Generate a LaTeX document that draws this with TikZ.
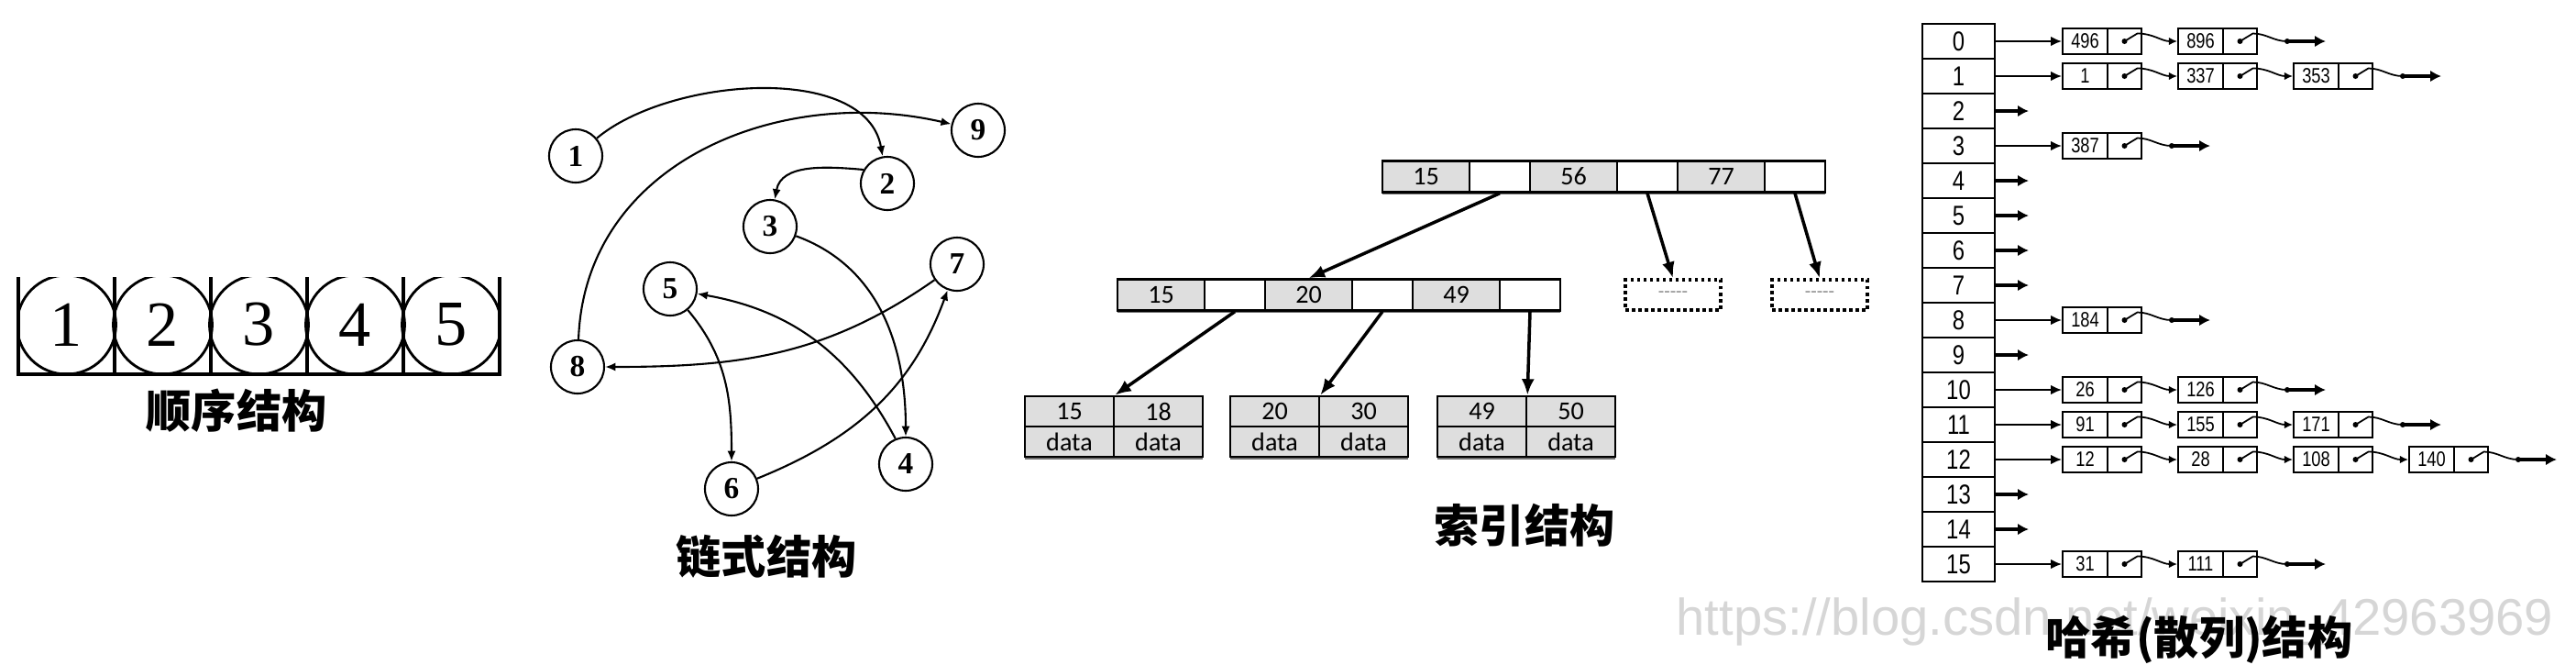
\documentclass[tikz,border=0pt]{standalone}
\usepackage{fontspec}
\setmainfont{Liberation Serif}
\newfontfamily\cjk{Noto Sans CJK SC}
\newfontfamily\narrowsans[FakeStretch=0.8]{Liberation Sans}
\newfontfamily\plainsans{Liberation Sans}
\newfontfamily\keyfont{Carlito}
\usetikzlibrary{%
		arrows.meta%
		,shadows%
	}
\definecolor{keygray}{gray}{0.87}

\begin{document}
\begin{tikzpicture}[
		caption/.style={inner sep=0pt, font=\cjk\bfseries\fontsize{14}{16}\selectfont},
		cellnum/.style={inner sep=0pt, font=\fontsize{20}{24}\selectfont},
		ring/.style={draw, circle, line width=0.6pt, minimum size=0.58cm, inner sep=0pt, font=\bfseries\fontsize{9.5}{10}\selectfont},
		link/.style={line width=0.6pt, -{Latex[length=3.2pt,width=2.6pt]}},
		keycell/.style={draw, line width=0.7pt, fill=keygray, inner sep=0pt, minimum width=0.95cm, minimum height=0.34cm, font=\keyfont\fontsize{8}{9}\selectfont, drop shadow={shadow xshift=0pt, shadow yshift=-0.8pt, opacity=0.8, fill=black!70}},
		ptrcell/.style={keycell, fill=white, minimum width=0.66cm},
		leafcell/.style={keycell, minimum width=0.97cm, minimum height=0.33cm},
		dotbox/.style={draw, densely dotted, line width=1pt, minimum width=1.04cm, minimum height=0.33cm, inner sep=0pt, text=black!45, font=\keyfont\fontsize{6}{7}\selectfont},
		treearrow/.style={line width=1pt, -{Latex[length=5pt,width=4pt]}},
		slot/.style={draw, line width=0.6pt, fill=white, minimum width=0.79cm, minimum height=0.38cm, inner sep=0pt, font=\narrowsans\fontsize{8.5}{9}\selectfont},
		valcell/.style={draw, line width=0.5pt, minimum width=0.49cm, minimum height=0.28cm, inner sep=0pt, font=\narrowsans\fontsize{6.5}{7}\selectfont},
		ptrbox/.style={valcell, minimum width=0.37cm},
		hasharrow/.style={line width=0.6pt, -{Latex[length=3.4pt,width=3pt]}},
		ptrlink/.style={line width=0.5pt},
		stub/.style={line width=1pt, -{Latex[length=3.4pt,width=3.6pt]}},
		watermark/.style={inner sep=0pt, text=black!16, font=\plainsans\fontsize{16}{18}\selectfont}
	]
	\useasboundingbox (0,0) rectangle (28.10,-7.24);

	% sequential
	\begin{scope}
		\clip (0.20,-3.02) rectangle (5.45,-4.20);
		\foreach \i in {1,...,5}{
			\draw[line width=0.8pt] ({0.725+1.05*(\i-1)},-3.54) circle (0.54);
		}
	\end{scope}
	\draw[line width=1pt] (0.20,-3.02) -- (0.20,-4.08) -- (5.45,-4.08) -- (5.45,-3.02);
	\foreach \x in {1.25,2.30,3.35,4.40}
		\draw[line width=1pt] (\x,-3.02) -- (\x,-4.08);
	\foreach \i in {1,...,5}
		\node[cellnum] (c\i) at ({0.725+1.05*(\i-1)},-3.54) {\i};
	\node[caption] (seqcap) at (2.58,-4.48) {顺序结构};

	% linked
	\node[ring] (n1) at (6.28,-1.70) {1};
	\node[ring] (n2) at (9.68,-2.00) {2};
	\node[ring] (n3) at (8.40,-2.47) {3};
	\node[ring] (n4) at (9.88,-5.06) {4};
	\node[ring] (n5) at (7.31,-3.15) {5};
	\node[ring] (n6) at (7.98,-5.33) {6};
	\node[ring] (n7) at (10.44,-2.88) {7};
	\node[ring] (n8) at (6.30,-4.00) {8};
	\node[ring] (n9) at (10.67,-1.42) {9};

	\draw[link] (n1) to[out=40, in=100, looseness=0.85] (n2);
	\draw[link] (n2.150) to[out=175, in=80] (n3);
	\draw[link] (n3) to[out=-20, in=90] (n4);
	\draw[link] (n4.112) to[out=118, in=-10] (n5);
	\draw[link] (n5) to[out=-50, in=90] (n6);
	\draw[link] (n6) to[out=22, in=-110] (n7);
	\draw[link] (n7) to[out=-145, in=0] (n8);
	\draw[link] (n8) to[out=88, in=167, looseness=1.05] (n9);
	\node[caption] (linkcap) at (8.36,-6.07) {链式结构};

	% index
	\foreach \k/\x/\v in {1/15.555/15, 2/17.165/56, 3/18.775/77}
		\node[keycell] (rk\k) at (\x,-1.925) {\v};
	\foreach \k/\x in {1/16.36, 2/17.97, 3/19.58}
		\node[ptrcell] (rp\k) at (\x,-1.925) {};

	\foreach \k/\x/\v in {1/12.665/15, 2/14.275/20, 3/15.885/49}
		\node[keycell] (mk\k) at (\x,-3.215) {\v};
	\foreach \k/\x in {1/13.47, 2/15.08, 3/16.69}
		\node[ptrcell] (mp\k) at (\x,-3.215) {};

	\node[dotbox] (d1) at (18.25,-3.215) {-----};
	\node[dotbox] (d2) at (19.85,-3.215) {-----};

	\foreach \l/\x/\a/\b in {1/11.18/15/18, 2/13.42/20/30, 3/15.68/49/50}{
		\node[leafcell] (la\l) at ({\x+0.485},-4.485) {\a};
		\node[leafcell] (lb\l) at ({\x+1.455},-4.485) {\b};
		\node[leafcell] (lc\l) at ({\x+0.485},-4.815) {data};
		\node[leafcell] (ld\l) at ({\x+1.455},-4.815) {data};
	}

	\draw[treearrow] (rp1.south) -- (mk2.north);
	\draw[treearrow] (rp2.south) -- (d1.north);
	\draw[treearrow] (rp3.south) -- (d2.north);
	\foreach \k in {1,2,3}
		\draw[treearrow] (mp\k.south) -- (la\k.north east);
	\node[caption] (idxcap) at (16.63,-5.73) {索引结构};

	% hash
	\foreach \r in {0,...,15}
		\node[slot] (h\r) at (21.365,{-0.45-0.38*\r}) {\r};

	\foreach \r/\vals/\n in {0/{496,896}/1, 1/{1,337,353}/2, 3/{387}/0, 8/{184}/0, 10/{26,126}/1, 11/{91,155,171}/2, 12/{12,28,108,140}/3, 15/{31,111}/1}{
		\foreach \v [count=\k from 0] in \vals{
			\node[valcell] (v\r-\k) at ({22.745+1.26*\k},{-0.45-0.38*\r}) {\v};
			\node[ptrbox] (p\r-\k) at ({23.175+1.26*\k},{-0.45-0.38*\r}) {};
			\fill (p\r-\k.center) circle (0.03);
			\ifnum\k>0
				\pgfmathtruncatemacro\j{\k-1}
				\draw[ptrlink, -{Latex[length=2.6pt,width=2.4pt]}] (p\r-\j.center) -- ++(0.14,0.085) to[out=0, in=180] (v\r-\k.west);
			\fi
		}
		\draw[hasharrow] (h\r.east) -- (v\r-0.west);
		\coordinate (t\r) at ({23.69+1.26*\n},{-0.45-0.38*\r});
		\coordinate (e\r) at ({24.11+1.26*\n},{-0.45-0.38*\r});
		\draw[ptrlink] (p\r-\n.center) -- ++(0.14,0.085) to[out=0, in=180] (t\r);
		\fill (t\r) circle (0.03);
		\draw[stub] (t\r) -- (e\r);
	}

	\foreach \r in {2,4,5,6,7,9,13,14}{
		\coordinate (z\r) at (22.13,{-0.45-0.38*\r});
		\draw[stub] (h\r.east) -- (z\r);
	}

	\node[watermark, anchor=base west] (wm) at (18.28,-6.92) {https://blog.csdn.net/weixin\_42963969};
	\node[caption] (hashcap) at (23.99,-6.97) {哈希(散列)结构};
\end{tikzpicture}
\end{document}
